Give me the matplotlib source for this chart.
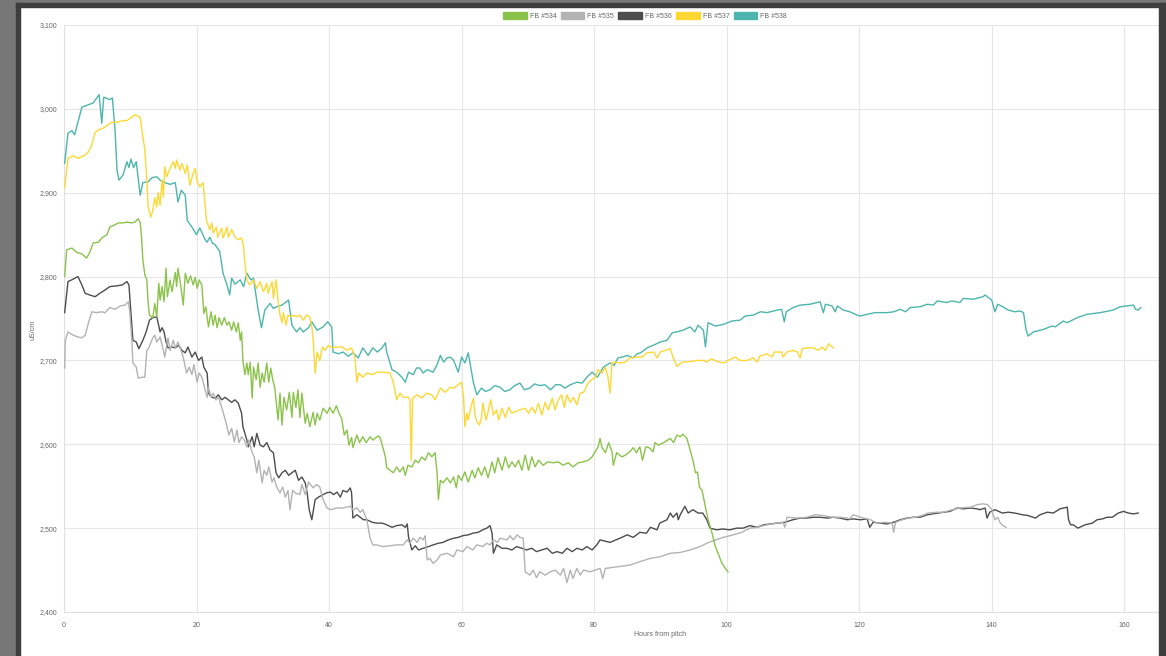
import matplotlib.pyplot as plt
from matplotlib.patches import Patch, Rectangle
from matplotlib.ticker import FuncFormatter, MultipleLocator

# conductivity readings (uS/cm) per fermenter, hours from pitch
fb534_hours = [0.1, 0.4, 1.2, 1.9, 2.7, 3.4, 3.9, 4.4, 5.2, 5.7, 6.5, 6.9, 7.5, 8.2, 8.9, 9.5, 10.2, 10.7, 11.2, 11.5,
               11.7, 11.9, 12.2, 12.5, 12.7, 12.9, 13.4, 13.7, 14.0, 14.3, 14.5, 14.8, 15.1, 15.4, 15.6, 16.0, 16.3,
               16.8, 17.0, 17.2, 17.6, 18.0, 18.3, 18.7, 19.1, 19.5, 19.8, 20.1, 20.4, 20.8, 21.1, 21.4, 21.8, 22.2,
               22.5, 22.8, 23.1, 23.4, 23.8, 24.2, 24.6, 24.9, 25.3, 25.6, 26.0, 26.3, 26.6, 26.8, 27.0, 27.3, 27.6,
               27.8, 28.1, 28.4, 28.6, 29.0, 29.3, 29.6, 29.9, 30.2, 30.6, 30.9, 31.2, 31.5, 31.8, 32.1, 32.3, 32.6,
               32.9, 33.2, 33.6, 34.0, 34.4, 34.6, 35.0, 35.3, 35.6, 35.9, 36.4, 36.7, 37.1, 37.6, 37.9, 38.2, 38.6,
               39.1, 39.7, 40.1, 40.6, 41.1, 41.5, 41.9, 42.3, 42.7, 43.0, 43.4, 43.6, 44.2, 44.6, 45.1, 45.6, 46.2,
               46.6, 47.4, 47.7, 48.1, 48.5, 48.7, 49.2, 49.7, 50.2, 50.7, 51.2, 51.5, 51.9, 52.5, 53.0, 53.5, 54.0,
               54.5, 55.0, 55.5, 56.0, 56.3, 56.5, 56.8, 57.2, 57.8, 58.3, 58.8, 59.2, 59.5, 60.0, 60.5, 61.0, 61.6,
               62.0, 62.5, 63.0, 63.5, 64.0, 64.6, 65.0, 65.5, 66.1, 66.6, 67.1, 67.6, 68.1, 68.6, 69.1, 69.6, 70.1,
               70.6, 71.1, 71.6, 72.3, 73.0, 73.8, 74.6, 75.3, 76.1, 76.8, 77.6, 78.3, 79.1, 79.7, 80.3, 80.6, 80.9,
               81.2, 81.7, 82.2, 82.7, 82.9, 83.4, 84.2, 84.7, 85.4, 85.9, 86.4, 86.9, 87.3, 87.8, 88.3, 88.9, 89.2,
               89.7, 90.5, 91.5, 92.0, 92.5, 93.0, 93.4, 94.0, 94.5, 95.0, 95.3, 95.6, 95.9, 96.3, 96.8, 97.2, 97.8,
               98.3, 98.8, 99.3, 99.8, 100.2]
fb534_values = [2800, 2832, 2834, 2829, 2827, 2822, 2829, 2840, 2841, 2846, 2850, 2859, 2861, 2864, 2864, 2865, 2864,
                2865, 2869, 2864, 2847, 2820, 2802, 2796, 2768, 2754, 2751, 2768, 2752, 2792, 2772, 2788, 2770, 2810,
                2776, 2796, 2782, 2805, 2788, 2810, 2790, 2766, 2804, 2792, 2801, 2790, 2799, 2786, 2796, 2790, 2756,
                2764, 2740, 2758, 2742, 2754, 2739, 2751, 2742, 2751, 2742, 2746, 2736, 2746, 2734, 2745, 2724, 2734,
                2700, 2683, 2697, 2683, 2698, 2655, 2692, 2677, 2697, 2668, 2685, 2674, 2697, 2674, 2691, 2677, 2668,
                2644, 2629, 2661, 2623, 2656, 2641, 2662, 2632, 2662, 2644, 2665, 2632, 2661, 2625, 2637, 2621, 2638,
                2623, 2637, 2629, 2643, 2637, 2644, 2637, 2646, 2637, 2631, 2611, 2617, 2599, 2608, 2596, 2611, 2602,
                2609, 2602, 2609, 2605, 2610, 2608, 2597, 2585, 2572, 2569, 2566, 2573, 2567, 2573, 2563, 2575, 2573,
                2581, 2578, 2585, 2581, 2590, 2585, 2590, 2566, 2534, 2557, 2554, 2560, 2554, 2561, 2548, 2563, 2557,
                2567, 2555, 2569, 2560, 2572, 2563, 2573, 2560, 2579, 2566, 2584, 2569, 2585, 2572, 2579, 2573, 2581,
                2569, 2587, 2569, 2585, 2573, 2581, 2575, 2579, 2578, 2579, 2575, 2578, 2573, 2578, 2579, 2581, 2585,
                2593, 2597, 2607, 2596, 2590, 2602, 2591, 2575, 2590, 2585, 2587, 2591, 2596, 2590, 2597, 2581, 2597,
                2596, 2591, 2602, 2599, 2602, 2607, 2602, 2611, 2609, 2612, 2607, 2593, 2578, 2566, 2567, 2549, 2545,
                2525, 2510, 2494, 2478, 2468, 2458, 2452, 2448]

fb535_hours = [0.1, 0.2, 0.6, 1.4, 2.1, 2.7, 3.2, 3.7, 4.2, 4.9, 5.7, 6.2, 6.9, 7.7, 8.5, 9.2, 9.7, 9.9, 10.2, 10.4,
               10.9, 11.2, 11.8, 12.2, 12.5, 12.8, 13.4, 13.7, 14.0, 14.5, 15.0, 15.2, 15.7, 16.0, 16.5, 16.8, 17.2,
               17.8, 18.1, 18.5, 18.9, 19.3, 19.6, 20.1, 20.4, 20.8, 21.1, 21.6, 21.8, 22.2, 22.5, 22.9, 23.3, 23.8,
               24.2, 24.6, 24.9, 25.3, 25.7, 26.1, 26.4, 26.8, 27.2, 27.6, 27.9, 28.4, 28.7, 29.1, 29.4, 29.9, 30.2,
               30.6, 30.9, 31.4, 31.7, 32.1, 32.6, 33.0, 33.4, 33.8, 34.1, 34.5, 34.9, 35.6, 35.9, 36.4, 36.9, 37.6,
               38.1, 38.6, 39.1, 39.7, 40.2, 41.2, 42.1, 43.2, 43.6, 44.2, 44.7, 45.1, 45.7, 46.2, 46.6, 47.2, 48.1,
               49.2, 50.2, 51.2, 51.8, 52.2, 52.7, 53.3, 53.7, 54.2, 54.5, 54.8, 55.2, 55.7, 56.3, 56.8, 57.8, 58.8,
               59.3, 60.2, 60.8, 61.7, 62.3, 63.2, 63.8, 64.3, 64.8, 65.4, 65.8, 66.9, 67.3, 67.8, 68.4, 68.8, 69.3,
               69.6, 70.3, 70.8, 71.3, 71.8, 72.6, 73.4, 74.1, 74.9, 75.4, 75.9, 76.4, 76.8, 77.4, 77.9, 78.4, 79.4,
               80.2, 80.9, 81.3, 81.7, 83.6, 85.4, 86.9, 88.5, 90.0, 91.5, 93.0, 94.5, 96.0, 97.0, 98.3, 99.5, 101.0,
               102.3, 103.5, 104.6, 106.1, 107.6, 108.5, 108.8, 109.1, 110.6, 112.1, 113.4, 114.6, 115.9, 117.1,
               118.2, 118.6, 119.1, 120.2, 121.7, 122.7, 123.9, 125.0, 125.2, 125.5, 126.5, 127.5, 128.5, 129.5,
               130.4, 131.8, 132.7, 134.1, 135.2, 136.8, 137.8, 138.7, 139.4, 140.0, 140.2, 140.5, 140.9, 141.3,
               141.7, 142.2]
fb535_values = [2691, 2724, 2734, 2730, 2728, 2727, 2730, 2745, 2758, 2757, 2758, 2757, 2763, 2761, 2765, 2766, 2770,
                2760, 2728, 2697, 2692, 2679, 2680, 2680, 2712, 2715, 2727, 2730, 2722, 2728, 2712, 2704, 2727, 2712,
                2724, 2715, 2722, 2709, 2700, 2685, 2692, 2683, 2695, 2674, 2685, 2680, 2671, 2656, 2668, 2656, 2661,
                2653, 2656, 2644, 2633, 2621, 2611, 2619, 2603, 2617, 2602, 2609, 2605, 2597, 2605, 2590, 2585, 2566,
                2581, 2554, 2569, 2563, 2573, 2555, 2560, 2549, 2542, 2549, 2537, 2545, 2522, 2545, 2542, 2540, 2552,
                2540, 2555, 2548, 2552, 2549, 2534, 2524, 2522, 2524, 2524, 2526, 2522, 2524, 2519, 2522, 2510, 2488,
                2480, 2480, 2478, 2479, 2480, 2480, 2486, 2482, 2488, 2483, 2489, 2486, 2491, 2462, 2464, 2458, 2462,
                2468, 2470, 2466, 2474, 2472, 2478, 2474, 2480, 2478, 2482, 2480, 2486, 2483, 2488, 2486, 2491, 2486,
                2492, 2489, 2488, 2448, 2444, 2450, 2441, 2448, 2444, 2448, 2450, 2444, 2452, 2435, 2450, 2440, 2452,
                2444, 2450, 2448, 2450, 2452, 2440, 2452, 2454, 2456, 2460, 2464, 2466, 2470, 2471, 2474, 2478, 2482,
                2486, 2489, 2492, 2495, 2500, 2501, 2504, 2506, 2507, 2501, 2513, 2512, 2513, 2516, 2515, 2513, 2513,
                2512, 2511, 2516, 2513, 2510, 2506, 2507, 2506, 2495, 2507, 2510, 2512, 2513, 2515, 2518, 2519, 2519,
                2522, 2524, 2525, 2528, 2529, 2528, 2522, 2516, 2510, 2513, 2506, 2503, 2501]

fb536_hours = [0.1, 0.6, 1.4, 2.1, 2.7, 3.2, 3.9, 4.7, 5.4, 6.2, 6.9, 8.0, 8.8, 9.5, 9.8, 10.1, 10.4, 10.9, 11.3, 11.9,
               12.4, 12.9, 13.4, 14.0, 14.2, 14.5, 14.8, 15.1, 15.4, 15.7, 16.3, 16.8, 17.3, 17.8, 18.3, 18.7, 19.3,
               19.8, 20.3, 20.8, 21.1, 21.6, 21.8, 22.3, 22.8, 23.3, 23.8, 24.3, 24.8, 25.3, 25.8, 26.3, 26.8, 27.0,
               27.6, 27.8, 28.4, 28.7, 29.1, 29.6, 30.1, 30.6, 31.1, 31.6, 32.0, 32.4, 32.9, 33.4, 33.9, 34.4, 34.9,
               35.4, 35.9, 36.4, 36.7, 37.0, 37.4, 37.9, 38.4, 39.1, 39.6, 40.2, 40.7, 41.2, 41.7, 42.1, 42.7, 43.2,
               43.4, 43.6, 44.2, 44.7, 45.2, 45.7, 46.5, 47.2, 48.0, 48.7, 49.5, 50.2, 51.0, 51.5, 51.8, 52.0, 52.5,
               53.0, 53.5, 54.2, 55.0, 55.7, 56.5, 57.2, 58.0, 58.8, 59.5, 60.2, 61.0, 61.7, 62.5, 63.2, 63.8, 64.3,
               64.6, 64.8, 65.3, 66.1, 66.8, 67.6, 68.3, 69.1, 69.8, 70.6, 71.3, 72.1, 72.9, 73.7, 74.4, 75.2, 75.9,
               76.7, 77.4, 78.2, 78.9, 79.7, 80.4, 80.9, 82.4, 83.9, 85.0, 85.9, 86.9, 87.9, 88.5, 89.5, 89.9, 91.0,
               91.5, 91.9, 92.5, 92.7, 93.0, 93.7, 94.2, 94.9, 95.7, 96.4, 97.0, 97.5, 98.5, 99.4, 100.5, 101.5,
               102.5, 103.5, 104.6, 105.6, 106.6, 107.6, 108.8, 110.0, 111.1, 112.1, 113.1, 114.1, 115.2, 116.1,
               117.1, 118.2, 119.1, 120.2, 121.2, 121.6, 122.1, 123.2, 124.2, 125.2, 126.2, 127.2, 128.2, 129.2,
               130.3, 131.9, 133.7, 134.8, 135.7, 136.8, 137.8, 138.2, 139.0, 139.3, 139.7, 140.5, 141.6, 142.5,
               143.5, 144.6, 145.5, 146.6, 147.3, 148.4, 149.3, 150.3, 151.4, 151.6, 151.9, 152.3, 153.0, 154.1,
               155.2, 155.9, 156.7, 157.4, 158.2, 159.1, 159.9, 160.6, 161.4, 162.1]
fb536_values = [2757, 2794, 2797, 2800, 2790, 2780, 2778, 2776, 2780, 2784, 2788, 2789, 2790, 2794, 2790, 2757, 2724,
                2722, 2714, 2724, 2734, 2748, 2751, 2752, 2745, 2734, 2739, 2734, 2722, 2715, 2716, 2715, 2718, 2712,
                2709, 2716, 2704, 2710, 2700, 2704, 2692, 2685, 2661, 2656, 2655, 2659, 2653, 2656, 2653, 2650, 2653,
                2649, 2637, 2621, 2605, 2597, 2609, 2597, 2613, 2599, 2597, 2602, 2593, 2590, 2566, 2560, 2566, 2569,
                2563, 2566, 2569, 2557, 2561, 2554, 2542, 2522, 2510, 2534, 2537, 2540, 2542, 2543, 2540, 2543, 2537,
                2545, 2543, 2548, 2542, 2512, 2516, 2513, 2510, 2510, 2507, 2506, 2506, 2504, 2501, 2503, 2504, 2501,
                2505, 2489, 2474, 2479, 2474, 2476, 2478, 2480, 2482, 2483, 2486, 2488, 2489, 2491, 2492, 2494, 2495,
                2498, 2500, 2503, 2494, 2470, 2480, 2476, 2476, 2474, 2478, 2476, 2474, 2476, 2472, 2474, 2476, 2470,
                2472, 2470, 2476, 2472, 2476, 2474, 2478, 2474, 2480, 2486, 2483, 2488, 2492, 2489, 2495, 2494, 2501,
                2498, 2506, 2510, 2518, 2513, 2518, 2510, 2516, 2526, 2518, 2522, 2518, 2518, 2510, 2500, 2498, 2499,
                2498, 2500, 2500, 2503, 2501, 2504, 2505, 2506, 2507, 2510, 2512, 2512, 2513, 2513, 2512, 2513, 2512,
                2510, 2511, 2510, 2511, 2501, 2507, 2506, 2505, 2507, 2510, 2512, 2513, 2513, 2516, 2518, 2520, 2524,
                2523, 2524, 2523, 2522, 2524, 2512, 2519, 2522, 2518, 2519, 2518, 2516, 2515, 2512, 2516, 2519, 2518,
                2523, 2525, 2510, 2504, 2504, 2500, 2504, 2506, 2510, 2511, 2513, 2513, 2518, 2520, 2518, 2517, 2518]

fb537_hours = [0.1, 0.6, 1.4, 2.1, 3.2, 3.7, 4.2, 4.7, 5.2, 5.9, 7.2, 8.0, 8.9, 9.5, 10.0, 10.7, 11.5, 11.7, 12.2,
               12.5, 12.7, 13.1, 13.4, 13.7, 14.0, 14.2, 14.5, 14.8, 15.0, 15.2, 15.5, 16.0, 16.5, 16.8, 17.0, 17.5,
               17.8, 18.3, 18.6, 19.0, 19.5, 19.8, 20.1, 20.5, 21.0, 21.5, 22.0, 22.3, 22.5, 23.0, 23.2, 23.8, 24.0,
               24.6, 24.8, 25.3, 25.8, 26.3, 26.8, 27.1, 27.3, 27.6, 28.0, 28.6, 29.1, 29.6, 30.1, 30.6, 30.8, 31.4,
               31.6, 32.0, 32.3, 32.6, 32.9, 33.1, 33.5, 33.8, 34.2, 34.6, 35.1, 35.6, 36.1, 36.6, 37.1, 37.4, 37.6,
               37.9, 38.2, 38.6, 39.0, 39.4, 39.9, 40.4, 41.2, 42.0, 42.7, 43.4, 43.9, 44.2, 44.5, 45.1, 45.7, 46.5,
               47.2, 48.2, 49.2, 49.7, 50.0, 50.2, 50.7, 51.2, 52.0, 52.2, 52.4, 52.6, 53.3, 54.0, 54.7, 55.5, 56.0,
               56.8, 57.5, 58.3, 58.8, 59.5, 60.0, 60.3, 60.5, 60.8, 61.0, 61.4, 61.8, 62.0, 62.3, 62.7, 63.0, 63.2,
               63.7, 64.0, 64.4, 64.8, 65.3, 65.6, 66.1, 66.6, 67.1, 67.6, 68.1, 68.8, 69.6, 70.1, 70.6, 71.1, 71.6,
               72.1, 72.6, 73.1, 73.7, 74.1, 74.6, 75.1, 75.5, 75.9, 76.4, 76.9, 77.4, 77.9, 78.4, 79.1, 79.6, 80.2,
               80.6, 81.2, 81.7, 82.1, 82.4, 82.7, 83.2, 83.9, 84.7, 85.4, 86.5, 87.2, 88.0, 89.0, 89.5, 90.0, 90.7,
               91.5, 91.9, 92.5, 93.3, 94.0, 95.5, 96.5, 97.0, 97.7, 98.5, 99.6, 100.2, 101.3, 102.0, 103.1, 104.0,
               104.6, 105.0, 106.1, 106.8, 107.2, 108.3, 108.5, 109.1, 110.0, 110.7, 111.1, 111.4, 112.1, 113.1,
               113.8, 114.4, 114.9, 115.4, 115.6, 116.1]
fb537_values = [2906, 2941, 2944, 2941, 2945, 2949, 2957, 2972, 2975, 2977, 2984, 2984, 2986, 2986, 2989, 2993, 2990,
                2978, 2951, 2915, 2883, 2871, 2879, 2894, 2883, 2900, 2885, 2915, 2895, 2931, 2919, 2929, 2937, 2929,
                2939, 2927, 2935, 2923, 2933, 2909, 2923, 2929, 2913, 2907, 2912, 2867, 2856, 2864, 2852, 2859, 2847,
                2858, 2846, 2859, 2847, 2856, 2847, 2844, 2846, 2835, 2816, 2796, 2790, 2796, 2786, 2794, 2782, 2792,
                2780, 2794, 2774, 2796, 2772, 2754, 2745, 2757, 2742, 2754, 2752, 2754, 2752, 2754, 2748, 2754, 2752,
                2740, 2724, 2685, 2710, 2700, 2716, 2712, 2718, 2715, 2716, 2716, 2712, 2715, 2703, 2674, 2685, 2680,
                2685, 2683, 2686, 2686, 2685, 2674, 2661, 2653, 2661, 2656, 2656, 2653, 2581, 2655, 2659, 2655, 2661,
                2659, 2653, 2667, 2662, 2668, 2667, 2671, 2674, 2656, 2621, 2637, 2629, 2644, 2655, 2635, 2627, 2623,
                2632, 2649, 2629, 2639, 2653, 2635, 2641, 2629, 2643, 2632, 2644, 2637, 2639, 2641, 2643, 2637, 2644,
                2637, 2649, 2635, 2650, 2641, 2655, 2641, 2653, 2659, 2644, 2659, 2650, 2656, 2647, 2661, 2662, 2673,
                2677, 2680, 2689, 2685, 2692, 2680, 2661, 2697, 2698, 2697, 2698, 2703, 2704, 2704, 2709, 2710, 2703,
                2710, 2712, 2714, 2704, 2693, 2698, 2698, 2700, 2700, 2698, 2702, 2699, 2697, 2700, 2704, 2700, 2700,
                2703, 2698, 2705, 2708, 2704, 2710, 2710, 2704, 2710, 2712, 2710, 2703, 2714, 2715, 2715, 2712, 2716,
                2712, 2720, 2718, 2715]

fb538_hours = [0.1, 0.6, 1.2, 1.6, 2.7, 4.4, 5.3, 5.7, 6.0, 6.9, 7.3, 7.7, 8.0, 8.3, 8.9, 9.5, 9.8, 10.1, 10.5, 10.9,
               11.5, 11.9, 12.7, 13.3, 14.0, 14.5, 15.2, 16.0, 16.8, 17.2, 17.7, 18.3, 18.6, 19.3, 20.0, 20.5, 21.3,
               21.6, 22.0, 22.4, 22.8, 23.5, 24.0, 24.6, 25.0, 25.3, 25.8, 26.6, 27.1, 27.6, 28.2, 28.6, 29.3, 29.8,
               30.3, 31.1, 31.6, 32.1, 32.9, 33.9, 34.4, 35.1, 35.6, 36.1, 36.9, 37.4, 38.2, 39.1, 39.8, 40.4, 40.6,
               41.4, 42.1, 42.9, 43.6, 44.4, 45.1, 45.9, 46.6, 47.3, 48.0, 48.5, 48.7, 49.5, 50.2, 51.0, 51.5, 52.0,
               52.7, 53.2, 53.7, 54.2, 54.8, 55.7, 56.3, 56.8, 57.3, 57.8, 58.3, 58.8, 59.5, 60.0, 60.5, 61.0, 61.8,
               62.3, 63.0, 63.6, 64.3, 65.0, 65.8, 66.5, 67.3, 68.0, 68.8, 69.5, 70.3, 71.0, 71.8, 72.6, 73.4, 74.2,
               74.9, 75.6, 76.4, 77.4, 78.2, 78.9, 79.7, 80.5, 81.4, 82.4, 83.0, 83.6, 84.3, 85.0, 85.9, 86.5, 87.0,
               88.0, 88.9, 90.0, 91.0, 91.8, 92.5, 93.4, 94.5, 95.2, 95.7, 96.5, 96.8, 97.2, 98.3, 99.5, 100.8, 102.0,
               102.8, 104.0, 105.1, 106.1, 107.6, 108.3, 108.7, 109.0, 110.0, 111.1, 112.6, 114.1, 114.6, 114.9,
               115.9, 116.4, 116.7, 117.6, 118.6, 119.7, 120.2, 121.2, 122.4, 124.2, 125.2, 126.2, 127.0, 127.7,
               129.2, 130.3, 131.2, 131.8, 133.2, 134.0, 135.2, 135.7, 137.2, 138.7, 139.0, 140.0, 140.5, 140.9,
               141.7, 142.5, 143.5, 144.3, 144.8, 145.2, 145.5, 146.3, 147.8, 149.1, 149.6, 150.8, 151.4, 152.9,
               154.4, 156.4, 158.3, 159.4, 161.4, 161.7, 162.1, 162.5]
fb538_values = [2935, 2971, 2974, 2969, 3002, 3007, 3017, 2983, 3014, 3011, 3013, 2975, 2927, 2915, 2921, 2937, 2930,
                2940, 2930, 2937, 2897, 2912, 2913, 2918, 2919, 2915, 2912, 2910, 2912, 2889, 2903, 2897, 2867, 2859,
                2850, 2858, 2844, 2841, 2847, 2840, 2838, 2830, 2804, 2790, 2778, 2798, 2791, 2796, 2788, 2804, 2796,
                2798, 2760, 2739, 2760, 2768, 2762, 2764, 2766, 2772, 2742, 2734, 2739, 2734, 2739, 2746, 2736, 2740,
                2746, 2740, 2710, 2708, 2710, 2705, 2709, 2703, 2715, 2706, 2715, 2710, 2715, 2721, 2710, 2689, 2686,
                2680, 2674, 2686, 2683, 2691, 2691, 2685, 2689, 2686, 2695, 2706, 2698, 2703, 2704, 2700, 2686, 2704,
                2697, 2709, 2673, 2659, 2667, 2663, 2665, 2670, 2668, 2663, 2665, 2670, 2673, 2665, 2667, 2672, 2670,
                2671, 2665, 2671, 2671, 2667, 2671, 2674, 2673, 2680, 2686, 2680, 2692, 2697, 2694, 2703, 2704, 2706,
                2703, 2708, 2709, 2715, 2718, 2722, 2724, 2733, 2734, 2736, 2740, 2734, 2742, 2736, 2716, 2745, 2741,
                2743, 2747, 2748, 2753, 2754, 2758, 2757, 2760, 2761, 2746, 2758, 2763, 2766, 2767, 2770, 2757, 2767,
                2765, 2758, 2765, 2760, 2758, 2754, 2753, 2755, 2757, 2757, 2758, 2761, 2758, 2763, 2764, 2767, 2766,
                2771, 2769, 2771, 2769, 2774, 2773, 2776, 2778, 2772, 2758, 2767, 2764, 2760, 2758, 2759, 2757, 2736,
                2729, 2734, 2737, 2741, 2740, 2747, 2745, 2751, 2755, 2757, 2760, 2764, 2766, 2761, 2760, 2763]

labels = ['FB #534', 'FB #535', 'FB #536', 'FB #537', 'FB #538']
colors = ['#8bc34a', '#b3b3b3', '#4d4d4d', '#fdd835', '#4db6ac']

series = [(fb534_hours, fb534_values), (fb535_hours, fb535_values), (fb536_hours, fb536_values),
          (fb537_hours, fb537_values), (fb538_hours, fb538_values)]

plt.rcParams['font.family'] = ['Liberation Sans', 'DejaVu Sans']

W, H = 1166, 656
fig = plt.figure(figsize=(W / 100, H / 100), dpi=100)
fig.patch.set_facecolor('white')

ax = fig.add_axes([64 / W, 44 / H, (1160 - 64) / W, 587 / H])

# first series ends up on top
for i in reversed(range(len(series))):
    h, v = series[i]
    ax.plot(h, v, color=colors[i], lw=1.0, zorder=3 + (len(series) - i))

ax.set_xlim(0, 165.4)
ax.set_ylim(2400, 3100)
ax.xaxis.set_major_locator(MultipleLocator(20))
ax.yaxis.set_major_locator(MultipleLocator(100))
ax.yaxis.set_major_formatter(FuncFormatter(lambda y, p: '{:,.0f}'.format(y)))
ax.grid(True, color='#e6e6e6', lw=0.8, zorder=0)
ax.set_axisbelow(True)
for side in ['top', 'right']:
    ax.spines[side].set_visible(False)
for side in ['left', 'bottom']:
    ax.spines[side].set_color('#e0e0e0')
    ax.spines[side].set_linewidth(0.8)
ax.tick_params(length=0, labelsize=5, labelcolor='#666666')
ax.tick_params(axis='y', pad=5)
ax.tick_params(axis='x', pad=7)

fig.text(660 / W, 1 - 635 / H, 'Hours from pitch', ha='center', va='center', fontsize=5, color='#666666')
fig.text(33 / W, 1 - 330 / H, 'uS/cm', ha='center', va='center', rotation=90, fontsize=5, color='#666666')

handles = [Patch(facecolor=c, edgecolor=c, label=l) for c, l in zip(colors, labels)]
fig.legend(handles=handles, loc='center', bbox_to_anchor=(645 / W, 1 - 16 / H), ncol=5, frameon=False,
           fontsize=5, handlelength=3.4, handleheight=1.1, handletextpad=0.45, columnspacing=0.6,
           labelcolor='#666666')

# window border around the canvas
fig.add_artist(Rectangle((0, 0), 16 / W, 1, transform=fig.transFigure, color='#777777', zorder=10))
fig.add_artist(Rectangle((0, 1 - 3 / H), 1, 3 / H, transform=fig.transFigure, color='#777777', zorder=10))
fig.add_artist(Rectangle((16 / W, 0), 4 / W, 1 - 3 / H, transform=fig.transFigure, color='#3d3d3d', zorder=11))
fig.add_artist(Rectangle((16 / W, 1 - 7 / H), 1, 4 / H, transform=fig.transFigure, color='#3d3d3d', zorder=11))
fig.add_artist(Rectangle((1159 / W, 0), 7 / W, 1 - 3 / H, transform=fig.transFigure, color='#3d3d3d', zorder=11))

fig.savefig('out.png', dpi=100)
